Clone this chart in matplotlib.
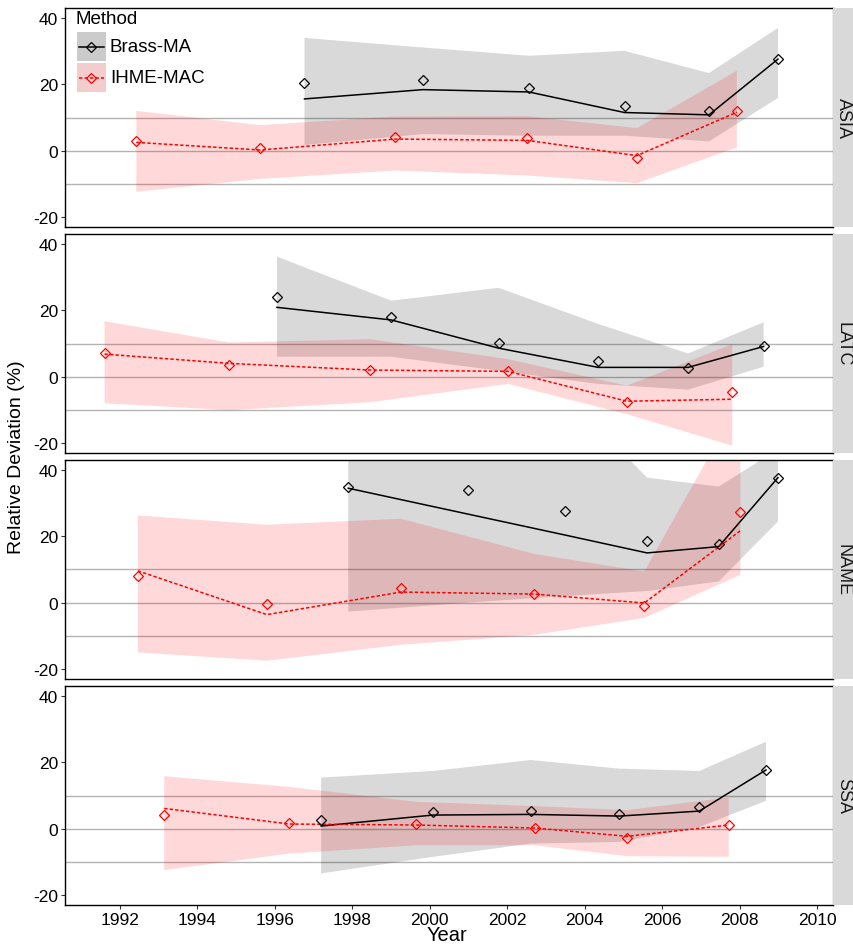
import matplotlib
matplotlib.use("Agg")
import matplotlib.pyplot as plt
from matplotlib.patches import Rectangle
from matplotlib.lines import Line2D

plt.rcParams['font.family'] = ['Liberation Sans', 'DejaVu Sans']

regions = ["ASIA", "LATC", "NAME", "SSA"]
methods = ["Brass-MA", "IHME-MAC"]
x_ticks = [1992, 1994, 1996, 1998, 2000, 2002, 2004, 2006, 2008, 2010]
y_ticks = [-20, 0, 20, 40]
ref_lines = [-10, 0, 10]

# Brass-MA: observation years, observed deviation, fitted trend, interval bounds
brass_year = {
    "ASIA": [1996.77, 1999.83, 2002.56, 2005.03, 2007.21, 2008.99],
    "LATC": [1996.06, 1999.01, 2001.78, 2004.35, 2006.67, 2008.62],
    "NAME": [1997.90, 2000.99, 2003.49, 2005.61, 2007.46, 2008.99],
    "SSA":  [1997.20, 2000.08, 2002.61, 2004.90, 2006.96, 2008.68],
}
brass_obs = {
    "ASIA": [20.4, 21.3, 18.9, 13.5, 11.9, 27.6],
    "LATC": [24.1, 17.9, 10.1, 4.7, 2.5, 9.1],
    "NAME": [35.0, 34.0, 27.5, 18.5, 17.8, 37.7],
    "SSA":  [2.5, 4.9, 5.2, 4.5, 6.6, 17.7],
}
brass_fit = {
    "ASIA": [15.6, 18.4, 17.7, 11.5, 10.8, 27.6],
    "LATC": [20.9, 17.1, 8.6, 2.8, 2.8, 9.1],
    "NAME": [34.5, 26.7, 20.4, 15.0, 16.9, 37.7],
    "SSA":  [0.8, 4.1, 4.3, 3.8, 5.3, 17.7],
}
brass_hi = {
    "ASIA": [34.0, 31.1, 28.6, 30.1, 23.4, 37.0],
    "LATC": [36.2, 22.9, 26.8, 15.9, 7.0, 16.4],
    "NAME": [60.0, 61.0, 63.0, 37.7, 35.0, 46.2],
    "SSA":  [15.4, 17.4, 20.7, 18.1, 17.4, 26.2],
}
brass_lo = {
    "ASIA": [1.7, 5.0, 4.5, 4.5, 2.8, 15.9],
    "LATC": [6.0, 6.0, 1.8, -2.2, -3.9, 3.0],
    "NAME": [-2.7, 0.0, 2.0, 3.5, 6.4, 24.5],
    "SSA":  [-13.5, -8.5, -4.5, -4.0, 0.5, 8.4],
}

# IHME-MAC: observation years, observed deviation, fitted trend, interval bounds
ihme_year = {
    "ASIA": [1992.43, 1995.63, 1999.11, 2002.52, 2005.35, 2007.93],
    "LATC": [1991.61, 1994.83, 1998.46, 2002.02, 2005.09, 2007.81],
    "NAME": [1992.47, 1995.80, 1999.26, 2002.70, 2005.54, 2008.02],
    "SSA":  [1993.15, 1996.38, 1999.66, 2002.71, 2005.10, 2007.72],
}
ihme_obs = {
    "ASIA": [2.9, 0.8, 4.1, 3.8, -2.1, 11.9],
    "LATC": [7.1, 3.6, 2.0, 1.6, -7.5, -4.6],
    "NAME": [8.0, -0.3, 4.4, 2.7, -1.1, 27.3],
    "SSA":  [4.0, 1.7, 1.4, 0.2, -2.7, 1.1],
}
ihme_fit = {
    "ASIA": [2.5, 0.2, 3.5, 3.1, -1.5, 11.6],
    "LATC": [6.8, 4.0, 2.0, 1.6, -7.4, -6.8],
    "NAME": [9.6, -3.6, 3.2, 2.6, -0.1, 21.7],
    "SSA":  [6.1, 1.4, 1.1, 0.2, -2.3, 1.1],
}
ihme_hi = {
    "ASIA": [12.0, 7.7, 10.3, 10.4, 6.8, 24.1],
    "LATC": [16.7, 10.3, 11.3, 5.3, -2.7, 9.8],
    "NAME": [26.3, 23.5, 25.3, 14.7, 9.4, 61.0],
    "SSA":  [15.8, 12.6, 8.1, 6.8, 5.6, 9.4],
}
ihme_lo = {
    "ASIA": [-12.4, -8.5, -6.0, -7.5, -9.8, 1.0],
    "LATC": [-8.0, -10.1, -7.7, -2.2, -11.3, -20.8],
    "NAME": [-15.0, -17.5, -12.7, -9.7, -4.6, 8.4],
    "SSA":  [-12.5, -7.5, -5.0, -5.0, -8.3, -8.5],
}

W, H = 854, 945
fig = plt.figure(figsize=(W / 100, H / 100), dpi=100)

left_px, right_px = 65, 833
panel_h = 219.6
panel_step = 226.0
first_top = 8.7

gray_fill = (0, 0, 0, 0.15)
red_fill = (1, 0, 0, 0.15)
dash = (0, (2.2, 1.4))
method_styles = [
    dict(color="black", ls="-", key="#cbcbcb"),
    dict(color="red", ls=dash, key="#f3cdcd"),
]


def px(x, y):
    """Figure-pixel position (from top-left) to figure fraction."""
    return x / W, 1 - y / H


for i, reg in enumerate(regions):
    top = first_top + i * panel_step
    bottom = top + panel_h
    rect = [left_px / W, 1 - bottom / H, (right_px - left_px) / W, panel_h / H]
    ax = fig.add_axes(rect)
    ax.set_xlim(1990.59, 2010.41)
    ax.set_ylim(-23.1, 43.1)

    for v in ref_lines:
        ax.axhline(v, color="#b3b3b3", lw=1.0, zorder=1)

    ax.fill_between(brass_year[reg], brass_lo[reg], brass_hi[reg],
                    facecolor=gray_fill, edgecolor="none", zorder=2)
    ax.fill_between(ihme_year[reg], ihme_lo[reg], ihme_hi[reg],
                    facecolor=red_fill, edgecolor="none", zorder=2)

    ax.plot(brass_year[reg], brass_fit[reg], color="black", lw=1.1, zorder=3)
    ax.plot(ihme_year[reg], ihme_fit[reg], color="red", lw=1.1,
            linestyle=dash, zorder=3)

    ax.plot(brass_year[reg], brass_obs[reg], linestyle="none", marker="D",
            ms=4.8, mfc="none", mec="black", mew=0.9, zorder=4)
    ax.plot(ihme_year[reg], ihme_obs[reg], linestyle="none", marker="D",
            ms=4.8, mfc="none", mec="red", mew=0.9, zorder=4)

    ax.set_yticks(y_ticks)
    ax.set_yticklabels([str(t) for t in y_ticks])
    ax.tick_params(axis="y", length=3, width=0.8, color="#333333",
                   labelsize=12.5, labelcolor="black", pad=2)
    ax.set_xticks(x_ticks)
    if i == len(regions) - 1:
        ax.set_xticklabels([str(t) for t in x_ticks])
        ax.tick_params(axis="x", length=3, width=0.8, color="#333333",
                       labelsize=12.5, labelcolor="black", pad=1.5)
    else:
        ax.tick_params(axis="x", bottom=False, labelbottom=False)

    for side in ["left", "bottom", "top"]:
        ax.spines[side].set_color("black")
        ax.spines[side].set_linewidth(1.0)
    ax.spines["right"].set_color("#999999")
    ax.spines["right"].set_linewidth(1.0)

    # facet strip on the right
    sax = fig.add_axes([right_px / W, 1 - bottom / H, (W - right_px) / W, panel_h / H])
    sax.set_facecolor("#d9d9d9")
    for s in sax.spines.values():
        s.set_visible(False)
    sax.set_xticks([])
    sax.set_yticks([])
    sax.text(0.5, 0.5, reg, rotation=-90, ha="center", va="center",
             fontsize=13, color="#1a1a1a", transform=sax.transAxes)

# legend drawn inside the first panel
fig.text(*px(76, 20), "Method", ha="left", va="center", fontsize=13.5)
key_w, key_h = 29, 29
for k, (name, st) in enumerate(zip(methods, method_styles)):
    ky = 33 + k * 31
    x0, y0 = px(77, ky + key_h)
    fig.add_artist(Rectangle((x0, y0), key_w / W, key_h / H,
                             transform=fig.transFigure, facecolor=st["key"],
                             edgecolor="none", zorder=5))
    cy = ky + key_h / 2
    xa, ya = px(79, cy)
    xb, _ = px(104, cy)
    fig.add_artist(Line2D([xa, xb], [ya, ya], transform=fig.transFigure,
                          color=st["color"], lw=1.1, linestyle=st["ls"], zorder=6))
    xm, _ = px(91.5, cy)
    fig.add_artist(Line2D([xm], [ya], transform=fig.transFigure, marker="D",
                          ms=4.8, mfc="none", mec=st["color"], mew=0.9,
                          linestyle="none", zorder=7))
    fig.text(*px(110, cy), name, ha="left", va="center", fontsize=13.5, zorder=7)

fig.text(*px(17, 457), "Relative Deviation (%)", rotation=90,
         ha="center", va="center", fontsize=14)
fig.text(*px(447, 936), "Year", ha="center", va="center", fontsize=14.5)

fig.savefig("out.png", dpi=100)
